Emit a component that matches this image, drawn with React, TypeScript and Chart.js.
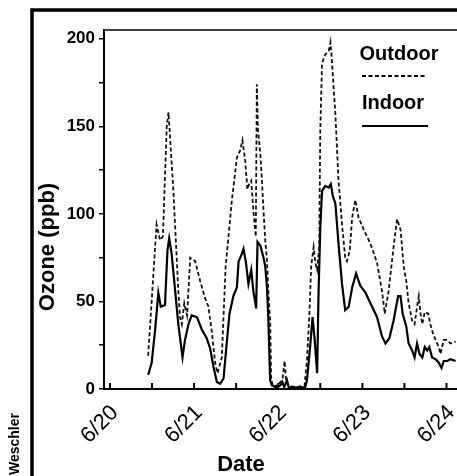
import { useEffect, useRef } from 'react';
import { Chart, registerables } from 'chart.js';

Chart.register(...registerables);

const FONT = '"Liberation Sans", Arial, Helvetica, sans-serif';

// hours since 6/20 00:00
const outdoorHours = [10.9, 13.3, 14.3, 15.1, 16.2, 16.7, 18.1, 19.5, 20.0, 20.5, 21.2, 22.0, 22.9, 24.3, 25.7, 27.1, 28.1, 29.1, 30.0, 30.7, 31.9, 33.0, 34.8, 36.2, 37.1, 37.8, 38.6, 39.2, 39.7, 40.3, 40.9, 41.6, 41.9, 42.2, 42.9, 43.3, 43.8, 44.3, 44.8, 45.2, 45.7, 46.0, 46.7, 48.1, 49.2, 49.8, 50.3, 50.9, 52.9, 55.5, 56.2, 56.9, 57.4, 58.1, 58.6, 59.1, 59.7, 60.0, 60.5, 61.4, 62.4, 62.9, 63.3, 64.3, 65.2, 66.2, 67.1, 67.6, 68.4, 69.1, 70.0, 70.9, 72.4, 74.3, 76.2, 77.6, 78.4, 79.5, 80.9, 81.9, 82.9, 83.8, 84.5, 85.2, 86.2, 86.9, 87.6, 88.1, 88.6, 89.1, 89.8, 90.8, 91.4, 92.1, 92.9, 93.8, 94.3, 95.2, 96.2, 97.1, 98.6];
const outdoorPpb = [19, 94, 85, 87, 150, 158, 113, 56, 41, 37, 49, 42, 75, 73, 62, 52, 47, 32, 15, 9, 18, 70, 108, 132, 136, 142, 130, 114, 117, 119, 102, 87, 174, 149, 134, 121, 102, 85, 73, 55, 39, 5, 1, 3, 5, 16, 4, 2, 1, 2, 16, 43, 70, 81, 72, 68, 81, 148, 186, 191, 193, 198, 188, 157, 119, 94, 75, 73, 79, 98, 108, 98, 91, 83, 72, 56, 43, 56, 81, 97, 91, 70, 62, 49, 39, 37, 47, 53, 43, 37, 44, 43, 37, 32, 28, 24, 20, 28, 28, 26, 27];

const indoorHours = [10.9, 11.9, 12.9, 13.8, 14.5, 15.7, 16.4, 16.9, 17.6, 18.6, 19.5, 20.7, 21.4, 22.4, 23.3, 24.8, 26.2, 27.6, 28.6, 29.5, 30.5, 31.4, 32.4, 33.3, 34.1, 35.2, 36.2, 36.7, 37.4, 38.1, 38.8, 39.5, 40.3, 40.9, 41.7, 42.1, 42.9, 43.8, 44.3, 44.8, 45.2, 45.7, 46.2, 47.5, 48.6, 49.2, 49.7, 50.5, 51.0, 53.0, 55.7, 56.2, 57.1, 57.8, 58.4, 59.1, 59.5, 60.0, 60.5, 61.4, 62.4, 63.0, 63.6, 64.3, 65.2, 66.2, 67.1, 68.1, 69.1, 70.2, 71.4, 72.9, 74.3, 76.2, 77.6, 78.6, 79.7, 80.9, 82.2, 82.9, 83.5, 84.5, 85.2, 86.2, 86.9, 87.6, 88.3, 89.1, 89.8, 90.5, 91.1, 91.9, 92.9, 93.8, 94.6, 95.2, 96.2, 97.1, 98.6];
const indoorPpb = [8, 15, 34, 55, 47, 48, 79, 86, 77, 56, 37, 18, 28, 37, 42, 41, 34, 29, 23, 13, 4, 3, 6, 26, 43, 53, 58, 73, 76, 80, 72, 60, 68, 56, 46, 84, 82, 75, 70, 58, 39, 5, 2, 1, 2, 4, 1, 5, 1, 1, 1, 5, 24, 41, 28, 9, 55, 92, 113, 116, 115, 117, 110, 106, 83, 60, 45, 47, 58, 66, 59, 55, 49, 41, 30, 26, 29, 39, 53, 53, 43, 36, 26, 22, 18, 26, 20, 18, 24, 22, 24, 18, 17, 15, 12, 16, 16, 17, 16];

const dateLabels = ['6/20', '6/21', '6/22', '6/23', '6/24'];
const seriesNames = ['Outdoor', 'Indoor'];
const yTitle = 'Ozone (ppb)';
const xTitle = 'Date';
const credit = 'Weschler';

export default function App() {
  const ref = useRef<HTMLCanvasElement>(null);

  useEffect(() => {
    const decor = {
      id: 'decor',
      beforeDraw(chart: any) {
        const c = chart.ctx;
        c.save();
        c.fillStyle = '#fff';
        c.fillRect(0, 0, chart.width, chart.height);
        c.restore();
      },
      afterDraw(chart: any) {
        const c = chart.ctx;
        const a = chart.chartArea;
        const xs = chart.scales.x;
        c.save();
        c.strokeStyle = '#000';
        c.fillStyle = '#000';
        // outer frame
        c.lineWidth = 3.5;
        c.beginPath();
        c.moveTo(32, chart.height);
        c.lineTo(32, 10);
        c.lineTo(chart.width, 10);
        c.stroke();
        // top border of plot
        c.lineWidth = 1.5;
        c.beginPath();
        c.moveTo(a.left, a.top);
        c.lineTo(a.right, a.top);
        c.stroke();
        // inward x ticks
        c.lineWidth = 2;
        xs.ticks.forEach((t: any) => {
          const px = xs.getPixelForValue(t.value);
          c.beginPath();
          c.moveTo(px, a.bottom);
          c.lineTo(px, a.bottom - 6);
          c.stroke();
        });
        // legend
        c.font = `bold 20px ${FONT}`;
        c.textAlign = 'center';
        c.textBaseline = 'middle';
        c.fillText(seriesNames[0], a.left + 295, a.top + 24);
        c.fillText(seriesNames[1], a.left + 289, a.top + 73);
        c.lineWidth = 1.8;
        c.setLineDash([4, 2.5]);
        c.beginPath();
        c.moveTo(a.left + 258, a.top + 46);
        c.lineTo(a.left + 321, a.top + 46);
        c.stroke();
        c.setLineDash([]);
        c.lineWidth = 2;
        c.beginPath();
        c.moveTo(a.left + 258, a.top + 96);
        c.lineTo(a.left + 324, a.top + 96);
        c.stroke();
        // titles
        c.font = `bold 22px ${FONT}`;
        c.fillText(xTitle, 241, a.bottom + 76);
        c.save();
        c.translate(48, a.top + 217);
        c.rotate(-Math.PI / 2);
        c.font = `bold 22px ${FONT}`;
        c.fillText(yTitle, 0, 0);
        c.restore();
        c.save();
        c.translate(15, a.bottom + 55);
        c.rotate(-Math.PI / 2);
        c.font = `bold 14px ${FONT}`;
        c.fillText(credit, 0, 0);
        c.restore();
        c.restore();
      },
    };

    const chart = new Chart(ref.current as HTMLCanvasElement, {
      type: 'line',
      data: {
        datasets: [
          {
            label: seriesNames[0],
            data: outdoorHours.map((h, i) => ({ x: h, y: outdoorPpb[i] })),
            borderColor: '#111',
            borderWidth: 1.8,
            borderDash: [4, 2.5],
            pointRadius: 0,
            tension: 0,
            fill: false,
          },
          {
            label: seriesNames[1],
            data: indoorHours.map((h, i) => ({ x: h, y: indoorPpb[i] })),
            borderColor: '#000',
            borderWidth: 2.2,
            pointRadius: 0,
            tension: 0,
            fill: false,
          },
        ],
      },
      options: {
        responsive: false,
        animation: false,
        devicePixelRatio: 1,
        layout: { padding: { top: 30, left: 0, right: 0, bottom: 0 } },
        plugins: { legend: { display: false }, tooltip: { enabled: false } },
        scales: {
          x: {
            type: 'linear',
            min: -1.7,
            max: 99,
            grid: { display: false },
            border: { display: true, color: '#000', width: 2 },
            ticks: {
              stepSize: 12,
              includeBounds: false,
              autoSkip: false,
              minRotation: 45,
              maxRotation: 45,
              padding: 3,
              labelOffset: 5,
              color: '#000',
              font: { family: FONT, size: 22 },
              callback: (v: any) => (v % 24 === 0 ? dateLabels[v / 24] ?? '' : ''),
            },
            afterFit: (s: any) => {
              s.height = 87;
              s.paddingLeft = 0;
              s.paddingRight = 0;
            },
          },
          y: {
            min: 0,
            max: 205,
            grid: { drawOnChartArea: false, drawTicks: true, tickLength: 5, color: '#000', lineWidth: 1.5 },
            border: { display: true, color: '#000', width: 2 },
            ticks: {
              stepSize: 25,
              includeBounds: false,
              autoSkip: false,
              padding: 4,
              color: '#000',
              font: { family: FONT, size: 17, weight: 'bold' },
              callback: (v: any) => (v % 50 === 0 ? String(v) : ''),
            },
            afterFit: (s: any) => {
              s.width = 104;
              s.paddingTop = 0;
              s.paddingBottom = 0;
            },
          },
        },
      },
      plugins: [decor],
    });
    return () => chart.destroy();
  }, []);

  return (
    <div style={{ position: 'fixed', left: 0, top: 0, width: 457, height: 476 }}>
      <canvas ref={ref} width={457} height={476} style={{ display: 'block' }} />
    </div>
  );
}
